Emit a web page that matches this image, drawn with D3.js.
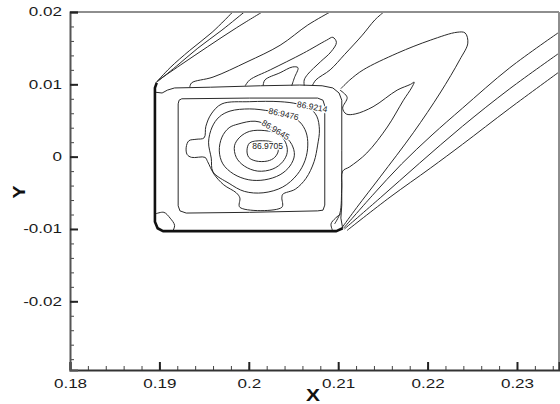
<!DOCTYPE html>
<html><head><meta charset="utf-8">
<script src="https://cdn.jsdelivr.net/npm/d3@7"></script>
<style>html,body{margin:0;padding:0;background:#fff;}svg{display:block;}</style>
</head><body>
<svg id="chart" width="560" height="404"></svg>
<script>
// ---- axes ----
const xDomain = [0.18, 0.2347];
const yDomain = [-0.0295, 0.02];
const xTicks = [0.18, 0.19, 0.20, 0.21, 0.22, 0.23];
const xTickLabels = ["0.18", "0.19", "0.2", "0.21", "0.22", "0.23"];
const yTicks = [-0.02, -0.01, 0, 0.01, 0.02];
const yTickLabels = ["-0.02", "-0.01", "0", "0.01", "0.02"];
const xTitle = "X";
const yTitle = "Y";

// ---- contour lines (x, y) ----
const boxEdge = [[0.1897,0.0102],[0.1895,0.0095],[0.1895,-0.0090],[0.1898,-0.0099],[0.1904,-0.0103],[0.2098,-0.0103],[0.2105,-0.0099]];
const wallContour = [[0.1896,0.0089],[0.1903,0.0088],[0.1909,0.0092],[0.1917,0.0095],[0.1957,0.0096],[0.2013,0.0098],[0.2057,0.0099],[0.2082,0.0098],[0.2094,0.0095],[0.2101,0.0088],[0.2104,0.0078],[0.2104,0.0009],[0.2104,-0.0067],[0.2103,-0.0085],[0.2105,-0.0099]];
const ringB = [[0.1925,0.0080],[0.2001,0.0081],[0.2077,0.0081],[0.2083,0.0078],[0.2085,0.0070],[0.2085,-0.0067],[0.2083,-0.0074],[0.2077,-0.0075],[0.2001,-0.0077],[0.1930,-0.0078],[0.1923,-0.0075],[0.1921,-0.0068],[0.1921,0.0073],[0.1922,0.0078]];
const ringC = [[0.1970,0.0073],[0.2001,0.0076],[0.2035,0.0076],[0.2054,0.0073],[0.2068,0.0067],[0.2076,0.0056],[0.2079,0.0037],[0.2077,0.0016],[0.2073,-0.0007],[0.2064,-0.0030],[0.2052,-0.0045],[0.2038,-0.0052],[0.2037,-0.0057],[0.2037,-0.0070],[0.1990,-0.0070],[0.1990,-0.0057],[0.1986,-0.0050],[0.1972,-0.0039],[0.1961,-0.0024],[0.1954,-0.0007],[0.1951,-0.0001],[0.1936,-0.0001],[0.1931,0.0003],[0.1930,0.0013],[0.1933,0.0022],[0.1941,0.0024],[0.1950,0.0026],[0.1952,0.0042],[0.1958,0.0059]];
const ringD = [[0.1979,0.0063],[0.2001,0.0066],[0.2024,0.0063],[0.2044,0.0058],[0.2057,0.0048],[0.2064,0.0034],[0.2066,0.0016],[0.2063,-0.0005],[0.2054,-0.0025],[0.2038,-0.0042],[0.2016,-0.0050],[0.1995,-0.0048],[0.1978,-0.0037],[0.1960,-0.0021],[0.1958,-0.0002],[0.1955,0.0020],[0.1959,0.0041],[0.1967,0.0055]];
const ringE = [[0.1988,0.0045],[0.2007,0.0049],[0.2024,0.0042],[0.2038,0.0031],[0.2048,0.0017],[0.2051,0.0002],[0.2046,-0.0013],[0.2035,-0.0025],[0.2018,-0.0032],[0.2000,-0.0032],[0.1983,-0.0024],[0.1971,-0.0010],[0.1967,0.0008],[0.1970,0.0027],[0.1978,0.0040]];
const ringF = [[0.2001,0.0035],[0.2018,0.0036],[0.2033,0.0031],[0.2041,0.0020],[0.2043,0.0006],[0.2038,-0.0007],[0.2027,-0.0017],[0.2010,-0.0020],[0.1995,-0.0013],[0.1986,-0.0001],[0.1984,0.0015],[0.1990,0.0027]];
const ringG = [[0.2001,0.0019],[0.2015,0.0022],[0.2028,0.0019],[0.2033,0.0009],[0.2029,-0.0001],[0.2021,-0.0006],[0.2008,-0.0006],[0.2000,-0.0001],[0.1998,0.0009]];
const streak1 = [[0.1896,0.0102],[0.1912,0.0123],[0.1934,0.0147],[0.1959,0.0172],[0.1982,0.0200]];
const streak2 = [[0.1897,0.0103],[0.1919,0.0125],[0.1943,0.0150],[0.1970,0.0175],[0.1995,0.0200]];
const streak3 = [[0.1898,0.0105],[0.1924,0.0127],[0.1954,0.0152],[0.1986,0.0178],[0.2015,0.0200]];
const streak4 = [[0.1934,0.0096],[0.1936,0.0102],[0.1960,0.0110],[0.1998,0.0131],[0.2035,0.0154],[0.2066,0.0182],[0.2091,0.0200]];
const finger0 = [[0.2016,0.0098],[0.2018,0.0106],[0.2035,0.0116],[0.2049,0.0124],[0.2055,0.0123],[0.2051,0.0109],[0.2048,0.0098]];
const finger1 = [[0.1996,0.0098],[0.2001,0.0106],[0.2024,0.0120],[0.2061,0.0143],[0.2087,0.0161],[0.2094,0.0165],[0.2098,0.0158],[0.2092,0.0145],[0.2080,0.0131],[0.2066,0.0114],[0.2062,0.0106],[0.2062,0.0098]];
const streak5 = [[0.2071,0.0098],[0.2075,0.0106],[0.2091,0.0120],[0.2107,0.0141],[0.2127,0.0168],[0.2141,0.0189],[0.2151,0.0200]];
const finger2 = [[0.2102,0.0092],[0.2110,0.0082],[0.2105,0.0067],[0.2109,0.0059],[0.2119,0.0059],[0.2139,0.0069],[0.2166,0.0092],[0.2181,0.0100],[0.2185,0.0103],[0.2182,0.0095],[0.2173,0.0078],[0.2155,0.0041],[0.2132,0.0005],[0.2113,-0.0014],[0.2105,-0.0020],[0.2104,-0.0042],[0.2102,-0.0078],[0.2096,-0.0093]];
const finger3 = [[0.2103,0.0094],[0.2113,0.0106],[0.2128,0.0120],[0.2166,0.0143],[0.2203,0.0161],[0.2233,0.0172],[0.2242,0.0171],[0.2245,0.0157],[0.2236,0.0134],[0.2214,0.0088],[0.2184,0.0033],[0.2147,-0.0028],[0.2121,-0.0070],[0.2105,-0.0097]];
const wake1 = [[0.2106,-0.0099],[0.2138,-0.0054],[0.2171,-0.0010],[0.2205,0.0030],[0.2239,0.0067],[0.2292,0.0123],[0.2347,0.0172]];
const wake2 = [[0.2107,-0.0100],[0.2147,-0.0057],[0.2191,-0.0009],[0.2239,0.0042],[0.2292,0.0094],[0.2347,0.0143]];
const wake3 = [[0.2110,-0.0102],[0.2158,-0.0056],[0.2203,-0.0016],[0.2239,0.0017],[0.2292,0.0067],[0.2347,0.0117]];
const cornerLeft = [[0.1896,-0.0079],[0.1905,-0.0077],[0.1912,-0.0085],[0.1917,-0.0095],[0.1915,-0.0103]];
const cornerRight = [[0.2094,-0.0103],[0.2092,-0.0093],[0.2097,-0.0085],[0.2103,-0.0079]];

// ---- contour labels ----
const labelTexts = ["86.9214", "86.9476", "86.9645", "86.9705"];
const labelX = [0.2071, 0.2039, 0.2030, 0.2021];
const labelY = [0.0069, 0.0059, 0.0037, 0.0015];
const labelAngle = [10, 13, 31, 0];

// ---- drawing ----
const L = 70, R = 559, T = 12, B = 370;
const svg = d3.select("#chart");
const x = d3.scaleLinear().domain(xDomain).range([L, R]);
const y = d3.scaleLinear().domain(yDomain).range([B, T]);

svg.append("defs").append("clipPath").attr("id", "clip")
  .append("rect").attr("x", L).attr("y", T).attr("width", R - L).attr("height", B - T);

const plot = svg.append("g").attr("clip-path", "url(#clip)");
const smooth = d3.line().x(d => x(d[0])).y(d => y(d[1])).curve(d3.curveCatmullRom.alpha(0.5));
const smoothClosed = d3.line().x(d => x(d[0])).y(d => y(d[1])).curve(d3.curveCatmullRomClosed.alpha(0.5));
const straight = d3.line().x(d => x(d[0])).y(d => y(d[1]));
const straightClosed = d3.line().x(d => x(d[0])).y(d => y(d[1])).curve(d3.curveLinearClosed);

const openSmooth = [streak1, streak2, streak3, streak4, finger0, finger1, streak5, finger2, finger3, wake1, wake2, wake3, cornerLeft, cornerRight];
const closedSmooth = [ringC, ringD, ringE, ringF, ringG];

plot.selectAll("path.open").data(openSmooth).join("path").attr("class", "open")
  .attr("d", smooth).attr("fill", "none").attr("stroke", "#2a2a2a").attr("stroke-width", 1);
plot.selectAll("path.closed").data(closedSmooth).join("path").attr("class", "closed")
  .attr("d", smoothClosed).attr("fill", "none").attr("stroke", "#2a2a2a").attr("stroke-width", 1);
plot.append("path").datum(ringB).attr("d", straightClosed).attr("fill", "none").attr("stroke", "#2a2a2a").attr("stroke-width", 1).attr("stroke-linejoin", "round");
plot.append("path").datum(wallContour).attr("d", straight).attr("fill", "none").attr("stroke", "#2a2a2a").attr("stroke-width", 1).attr("stroke-linejoin", "round");
plot.append("path").datum(boxEdge).attr("d", straight).attr("fill", "none").attr("stroke", "#111").attr("stroke-width", 2.6).attr("stroke-linejoin", "round");

// labels
plot.selectAll("text.lbl").data(labelTexts).join("text").attr("class", "lbl")
  .attr("transform", (d, i) => `translate(${x(labelX[i])},${y(labelY[i])}) rotate(${labelAngle[i]})`)
  .attr("text-anchor", "middle").attr("dy", "0.35em")
  .attr("font-family", "Liberation Sans, Arial, sans-serif").attr("font-size", 8.5)
  .attr("fill", "#222").attr("stroke", "#fff").attr("stroke-width", 2.5).attr("paint-order", "stroke")
  .text(d => d);

// frame top/right
svg.append("line").attr("x1", L).attr("x2", R).attr("y1", T).attr("y2", T).attr("stroke", "#8e8e8e").attr("stroke-width", 2);
svg.append("line").attr("x1", R).attr("x2", R).attr("y1", T).attr("y2", B).attr("stroke", "#8e8e8e").attr("stroke-width", 2);

// axes
const font = "Liberation Sans, Arial, sans-serif";
const xMinor = d3.range(0.18, 0.2347, 0.002);
const yMinor = d3.range(-0.028, 0.0201, 0.002);

const gxMinor = svg.append("g").attr("transform", `translate(0,${B})`)
  .call(d3.axisBottom(x).tickValues(xMinor).tickSize(-4).tickFormat(""));
const gx = svg.append("g").attr("transform", `translate(0,${B})`)
  .call(d3.axisBottom(x).tickValues(xTicks).tickSize(-8).tickPadding(8).tickFormat((d, i) => xTickLabels[i]));
const gyMinor = svg.append("g").attr("transform", `translate(${L},0)`)
  .call(d3.axisLeft(y).tickValues(yMinor).tickSize(-4).tickFormat(""));
const gy = svg.append("g").attr("transform", `translate(${L},0)`)
  .call(d3.axisLeft(y).tickValues(yTicks).tickSize(-8).tickPadding(8).tickFormat((d, i) => yTickLabels[i]));

[gxMinor, gyMinor].forEach(g => { g.select(".domain").remove(); g.selectAll(".tick line").attr("stroke", "#444").attr("stroke-width", 1); });
[gx, gy].forEach(g => {
  g.selectAll(".tick line").attr("stroke", "#222").attr("stroke-width", 2);
  g.selectAll(".tick text").attr("font-family", font).attr("font-size", 12).attr("fill", "#1a1a1a")
    .each(function () {
      const w = this.getComputedTextLength();
      d3.select(this).attr("textLength", w * 1.42).attr("lengthAdjust", "spacingAndGlyphs");
    });
});
gx.selectAll(".tick text").attr("y", 9);
gy.selectAll(".tick text").attr("x", -8);
gx.select(".domain").attr("stroke", "#333").attr("stroke-width", 2);
gy.select(".domain").attr("stroke", "#555").attr("stroke-width", 2);

svg.append("text").attr("x", 313).attr("y", 401).attr("text-anchor", "middle")
  .attr("font-family", font).attr("font-weight", "bold").attr("font-size", 16).attr("fill", "#111")
  .attr("textLength", 14).attr("lengthAdjust", "spacingAndGlyphs").text(xTitle);
svg.append("text").attr("transform", "translate(25,192) rotate(-90)").attr("text-anchor", "middle")
  .attr("font-family", font).attr("font-weight", "bold").attr("font-size", 16).attr("fill", "#111")
  .attr("textLength", 13).attr("lengthAdjust", "spacingAndGlyphs").text(yTitle);
</script>
</body></html>
